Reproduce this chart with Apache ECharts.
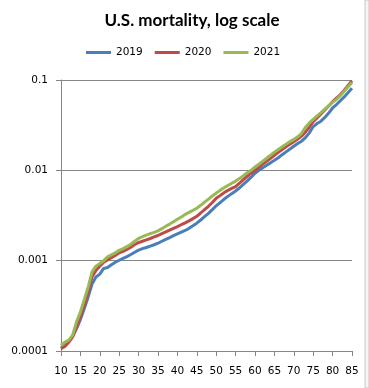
<!DOCTYPE html>
<html><head><meta charset="utf-8">
<script src="https://cdn.jsdelivr.net/npm/echarts@6/dist/echarts.min.js"></script>
<style>html,body{margin:0;padding:0;background:#fff}#c{width:369px;height:388px}</style>
</head><body><div id="c"></div>
<script>
const ages = [];
for (let a = 10; a <= 85; a++) ages.push(String(a));
const yTickLabels = ['0.0001', '0.001', '0.01', '0.1'];
const seriesNames = ['2019', '2020', '2021'];
const mort2019 = [0.000108,0.000115,0.000128,0.000145,0.000177,0.000223,0.000295,0.000397,0.00055,0.00066,
0.00071,0.00082,0.00084,0.00090,0.00096,0.00101,0.00106,0.00111,0.00117,0.00124,
0.00131,0.00136,0.00140,0.00145,0.00150,0.00156,0.00164,0.00172,0.00180,0.00189,
0.00198,0.00207,0.00216,0.00228,0.00243,0.00260,0.00282,0.00307,0.00334,0.00367,
0.00405,0.00440,0.00478,0.00515,0.00552,0.00590,0.00640,0.00700,0.00765,0.00840,
0.00930,0.0100,0.0107,0.0114,0.0121,0.0129,0.0138,0.0149,0.0160,0.0172,
0.0185,0.0198,0.0210,0.0230,0.0260,0.0305,0.0330,0.0350,0.0385,0.0430,
0.0490,0.0535,0.0590,0.0650,0.0725,0.0810];
const mort2020 = [0.000106,0.000112,0.000125,0.000143,0.000185,0.00024,0.00032,0.00045,0.00066,0.00078,
0.00087,0.00096,0.00102,0.00108,0.00114,0.00122,0.00127,0.00133,0.00141,0.00151,
0.00158,0.00164,0.00170,0.00176,0.00183,0.00190,0.00199,0.00208,0.00218,0.00228,
0.00238,0.00250,0.00262,0.00276,0.00292,0.00310,0.00337,0.00368,0.00400,0.00440,
0.00490,0.00525,0.00565,0.00600,0.00630,0.00660,0.00720,0.00790,0.00860,0.00930,
0.0100,0.0108,0.0117,0.0126,0.0136,0.0147,0.0158,0.0170,0.0182,0.0195,
0.0207,0.0222,0.0239,0.0265,0.0300,0.0345,0.0380,0.0420,0.0465,0.0515,
0.0575,0.0630,0.0690,0.0770,0.0870,0.0980];
const mort2021 = [0.000115,0.000125,0.000132,0.000150,0.00021,0.00027,0.00037,0.00051,0.00075,0.00087,
0.00093,0.00100,0.00110,0.00116,0.00122,0.00130,0.00136,0.00143,0.00152,0.00164,
0.00176,0.00184,0.00192,0.00199,0.00206,0.00214,0.00226,0.00240,0.00254,0.00270,
0.00287,0.00305,0.00325,0.00342,0.00360,0.00380,0.00410,0.00445,0.00480,0.00520,
0.00560,0.00600,0.00640,0.00680,0.00720,0.00760,0.00810,0.00870,0.00940,0.0100,
0.0109,0.0117,0.0126,0.0136,0.0147,0.0159,0.0170,0.0182,0.0195,0.0208,
0.0220,0.0235,0.0257,0.0300,0.0335,0.0367,0.0400,0.0435,0.0475,0.0520,
0.0565,0.0610,0.0670,0.0750,0.0840,0.0940];
const colors = ['#4A7EBB', '#BE4B48', '#98B954'];

const chart = echarts.init(document.getElementById('c'), null, {renderer: 'canvas'});
const labelFont = 'DejaVu Sans';
chart.setOption({
  animation: false,
  color: colors,
  graphic: [{
    type: 'rect', shape: {x: 365, y: 0, width: 4, height: 388},
    style: {fill: '#f4f4f4', stroke: '#c8c8c8', lineWidth: 1}
  }],
  title: {
    text: 'U.S. mortality, log scale', left: 187, textAlign: 'center', top: 7,
    textStyle: {fontFamily: 'Lato', fontWeight: 'bold', fontSize: 17, color: '#000'}
  },
  legend: {
    left: 86, top: 47, padding: 0, itemWidth: 25, itemHeight: 3, itemGap: 12, icon: 'rect',
    data: seriesNames,
    textStyle: {fontFamily: labelFont, fontSize: 10.5, color: '#000'}
  },
  grid: {left: 61, right: 17, top: 80, bottom: 37, containLabel: false},
  xAxis: {
    type: 'category', data: ages, boundaryGap: false,
    axisLine: {lineStyle: {color: '#868686', width: 1}},
    axisTick: {show: true, interval: 4, length: 5, lineStyle: {color: '#868686'}},
    axisLabel: {interval: 4, margin: 15, fontFamily: labelFont, fontSize: 10.5, color: '#000'},
    splitLine: {show: false}
  },
  yAxis: {
    type: 'log', logBase: 10, min: 0.0001, max: 0.1,
    axisLine: {show: true, lineStyle: {color: '#868686', width: 1}},
    axisTick: {show: true, length: 5, lineStyle: {color: '#868686'}},
    minorTick: {show: false},
    axisLabel: {
      margin: 13, fontFamily: labelFont, fontSize: 10.5, color: '#000',
      formatter: function (v) {
        const e = Math.round(Math.log10(v));
        return yTickLabels[e + 4] || '';
      }
    },
    splitLine: {show: true, lineStyle: {color: '#868686', width: 1}}
  },
  series: [
    {name: seriesNames[0], type: 'line', data: mort2019, showSymbol: false, symbol: 'none', lineStyle: {width: 3}},
    {name: seriesNames[1], type: 'line', data: mort2020, showSymbol: false, symbol: 'none', lineStyle: {width: 3}},
    {name: seriesNames[2], type: 'line', data: mort2021, showSymbol: false, symbol: 'none', lineStyle: {width: 3}}
  ]
});
</script></body></html>
